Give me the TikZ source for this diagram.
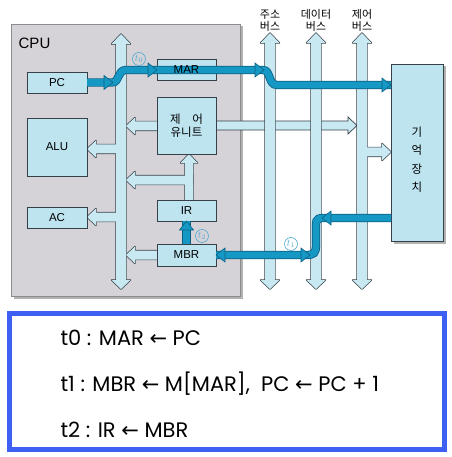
\documentclass[tikz,border=0pt]{standalone}
\usepackage{fontspec}
\setmainfont{Liberation Sans}
\newfontfamily\kr{Noto Sans CJK KR}
\newfontfamily\comic{Poppins}
\newfontfamily\sym{DejaVu Sans}
\usetikzlibrary{shadows}
\definecolor{cpuc}{RGB}{213,211,215}
\definecolor{boxc}{RGB}{190,228,240}
\definecolor{holc}{RGB}{200,232,242}
\definecolor{edgec}{RGB}{55,64,72}
\definecolor{flowc}{RGB}{22,152,196}
\definecolor{flowdark}{RGB}{12,96,132}
\definecolor{tlc}{RGB}{80,170,210}
\definecolor{framec}{RGB}{62,96,242}
% shapes
\newcommand\vbus[4][]{\path[#1] (#2-5,#3+10) -- (#2-9.5,#3+10) -- (#2,#3) -- (#2+9.5,#3+10) -- (#2+5,#3+10) -- (#2+5,#4-9) -- (#2+9.5,#4-9) -- (#2,#4) -- (#2-9.5,#4-9) -- (#2-5,#4-9) -- cycle;}
\newcommand\hleft[4][]{\path[#1] (#3,#4-4.5) -- (#2+9,#4-4.5) -- (#2+9,#4-8.5) -- (#2,#4) -- (#2+9,#4+8.5) -- (#2+9,#4+4.5) -- (#3,#4+4.5) -- cycle;}
\newcommand\hright[4][]{\path[#1] (#3,#4-4.5) -- (#2-9,#4-4.5) -- (#2-9,#4-8.5) -- (#2,#4) -- (#2-9,#4+8.5) -- (#2-9,#4+4.5) -- (#3,#4+4.5) -- cycle;}
\newcommand\vup[4][]{\path[#1] (#2-4,#4) -- (#2-4,#3+9) -- (#2-8.5,#3+9) -- (#2,#3) -- (#2+8.5,#3+9) -- (#2+4,#3+9) -- (#2+4,#4) -- cycle;}
\newcommand\intbus[1]{%
 \vbus[#1]{121}{34}{289}
 \hleft[#1]{87}{121}{149}
 \hleft[#1]{87}{121}{217}
 \hleft[#1]{126}{186}{126}
 \hleft[#1]{126}{193}{180}
 \hleft[#1]{126}{186}{255}
 \vup[#1]{189}{154}{205}}
\newcommand\extbus[1]{%
 \vbus[#1]{270}{33}{289}
 \vbus[#1]{316}{33}{289}
 \vbus[#1]{362}{33}{289}
 \hright[#1]{391}{362}{152}}
\newcommand\fhead[3]{\path[flowhead,shift={(#1,#2)},rotate=#3] (0,0) -- (-9,-7) -- (-9,7) -- cycle;}
\newcommand\tzero[1]{\path[#1] (pc.east) -- (112,82.5) .. controls (120,82.5) and (117,70) .. (126,70) -- (263,70) .. controls (271,70) and (268,85) .. (277,85) -- (mem.west |- 0,85);}
\newcommand\tone[1]{\path[#1] (mem.west |- 0,218) -- (323,218) .. controls (315,218) and (316,222) .. (316,230) -- (316,245) .. controls (316,253) and (314,255) .. (306,255) -- (mbr.east);}
\newcommand\ttwo[1]{\path[#1] (mbr.north) -- (ir.south);}
\begin{document}
\begin{tikzpicture}[x=1pt,y=-1pt,
  reg/.style={draw=edgec, line width=0.7pt, fill=boxc, inner sep=0pt, outer sep=0pt,
    font=\fontsize{11.5}{13.5}\selectfont, drop shadow={shadow xshift=1.2pt, shadow yshift=-1.2pt, fill=black, opacity=.25}},
  outl/.style={draw=edgec, line width=1.4pt, line join=round},
  infill/.style={fill=holc},
  hollow/.style={draw=edgec, line width=0.7pt, fill=holc},
  flowout/.style={draw=flowdark, line width=8.3pt},
  flowin/.style={draw=flowc, line width=6.6pt},
  flowhead/.style={fill=flowc, draw=flowdark, line width=0.6pt, line join=miter},
  tlab/.style={circle, draw=tlc, text=tlc, line width=0.6pt, inner sep=0pt, minimum size=13pt, font=\fontsize{10}{10}\selectfont},
  buslab/.style={align=center, font=\kr\fontsize{11}{12}\selectfont},
  eqn/.style={anchor=base west, font=\comic\fontsize{21}{24}\selectfont}]
\fill[white] (0,0) rectangle (451,457);
\useasboundingbox (0,0) rectangle (451,457);
% CPU
\node[draw=black!45, fill=cpuc, line width=0.6pt, minimum width=229pt, minimum height=272pt, inner sep=0pt, outer sep=0pt,
  drop shadow={shadow xshift=2.5pt, shadow yshift=-2.5pt, fill=black, opacity=.3}] (cpu) at (125.5,160) {};
\node[font=\fontsize{15}{15}\selectfont] (cpulab) at (34.5,43.5) {CPU};
% control unit to control bus
\hright[hollow]{357}{200}{125.5}
% buses
\intbus{outl}
\intbus{infill}
\extbus{outl}
\extbus{infill}
% boxes
\node[reg, minimum width=60pt, minimum height=21pt] (pc) at (57,82.5) {PC};
\node[reg, minimum width=59pt, minimum height=21pt] (mar) at (186.5,69.5) {};
\node[reg, minimum width=59pt, minimum height=57pt, align=center] (cu) at (186.5,125.5) {\kr 제\quad 어\\\kr 유니트};
\node[reg, minimum width=60pt, minimum height=58pt] (alu) at (57,147) {ALU};
\node[reg, minimum width=60pt, minimum height=21pt] (ac) at (57,217.5) {AC};
\node[reg, minimum width=59pt, minimum height=21pt] (ir) at (186.5,210.5) {IR};
\node[reg, minimum width=59pt, minimum height=22pt] (mbr) at (186.5,255) {MBR};
\node[reg, minimum width=52pt, minimum height=177pt, align=center,
  drop shadow={shadow xshift=2.5pt, shadow yshift=-2.5pt, fill=black, opacity=.3}] (mem) at (417,152.5) {};
\node[align=center, font=\kr\fontsize{11.5}{18.5}\selectfont] (memlab) at (417,159.5) {기\\억\\장\\치};
% flows
\tzero{flowout}\tzero{flowin}
\tone{flowout}\tone{flowin}
\ttwo{flowout}\ttwo{flowin}
\node[font=\fontsize{11.5}{13.5}\selectfont] (marlab) at (mar) {MAR};
\fhead{113}{82.5}{0}
\fhead{157}{70}{0}
\fhead{264}{70}{0}
\fhead{391}{85}{0}
\fhead{322}{218}{180}
\fhead{310}{255}{0}
\fhead{216}{255}{180}
\fhead{186.5}{221}{90}
\node[tlab] (lt0) at (139,59) {$t_0$};
\node[tlab] (lt1) at (291,244) {$t_1$};
\node[tlab] (lt2) at (202,236) {$t_2$};
% bus labels
\node[buslab] (labaddr) at (270,20.5) {주소\\버스};
\node[buslab] (labdata) at (316,20.5) {데이터\\버스};
\node[buslab] (labctrl) at (362,20.5) {제어\\버스};
% bottom frame
\draw[framec, line width=5pt] (9.5,313.5) rectangle (444.5,449.5);
\node[eqn] (eq0) at (57,345.5) {t0 : MAR {\sym ←} PC};
\node[eqn] (eq1) at (57,391.5) {t1 : MBR {\sym ←} M[MAR],\ \ PC {\sym ←} PC + 1};
\node[eqn] (eq2) at (57,437.5) {t2 : IR {\sym ←} MBR};
\end{tikzpicture}
\end{document}
